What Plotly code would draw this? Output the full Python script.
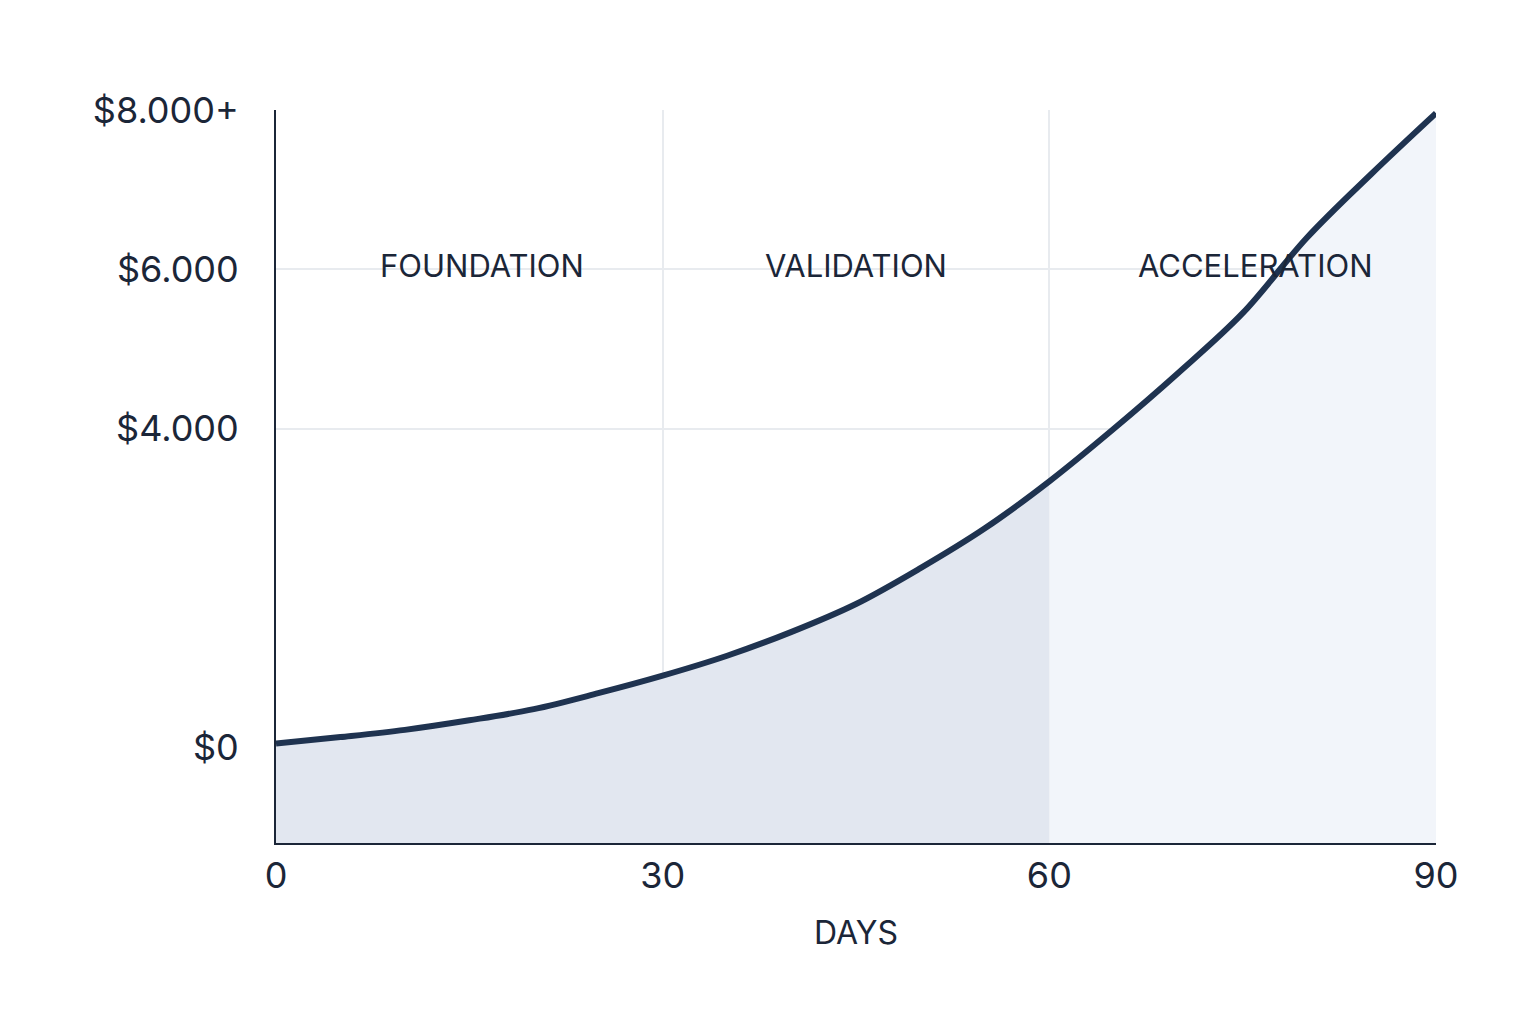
import plotly.graph_objects as go

days = [0, 5, 10, 15, 20, 25, 30, 35, 40, 45, 50, 55, 60, 65, 70, 75, 80, 85, 90]
revenue = [50, 130, 220, 340, 480, 680, 900, 1150, 1450, 1800, 2250, 2750, 3340, 4000, 4700, 5450, 6400, 7200, 7960]
phases = ["FOUNDATION", "VALIDATION", "ACCELERATION"]
phase_x = [16, 45, 76]
y_ticks = [0, 4000, 6000, 8000]
y_labels = ["$0", "$4.000", "$6.000", "$8.000+"]
x_ticks = [0, 30, 60, 90]
YMIN = -1200

fig = go.Figure()
d1 = [d for d in days if d <= 60]
r1 = revenue[:len(d1)]
d2 = [d for d in days if d >= 60]
r2 = revenue[len(d1) - 1:]
for dx, rx, col in [(d1, r1, "#e2e7f0"), (d2, r2, "#f2f5fa")]:
    fig.add_trace(go.Scatter(x=dx, y=[YMIN] * len(dx), mode="lines", line=dict(width=0), hoverinfo="skip", showlegend=False))
    fig.add_trace(go.Scatter(x=dx, y=rx, mode="lines", line=dict(width=0), fill="tonexty", fillcolor=col, showlegend=False))
fig.add_trace(go.Scatter(x=days, y=revenue, mode="lines", line=dict(color="#1f3350", width=6, shape="spline"), showlegend=False))

for p, px in zip(phases, phase_x):
    fig.add_annotation(x=px, y=6050, text=p, showarrow=False, yanchor="middle",
                       font=dict(family="Inter, Noto Sans", size=31, color="#1b2638"))

fig.update_layout(
    width=1536, height=1024, plot_bgcolor="white", paper_bgcolor="white",
    margin=dict(l=268, r=108, t=102, b=189),
    font=dict(family="Inter, Noto Sans", color="#1b2638"),
    xaxis=dict(range=[0, 90], tickvals=x_ticks, ticks="", showgrid=True, gridcolor="#e8ebef", gridwidth=1.5,
               zeroline=False, showline=True, linecolor="#1b2638", linewidth=2, tickfont=dict(size=36),
               title=dict(text="DAYS", font=dict(size=32), standoff=25)),
    yaxis=dict(range=[YMIN, 8000], tickvals=y_ticks, ticktext=y_labels, ticks="outside", ticklen=28,
               tickcolor="white", showgrid=True, gridcolor="#e8ebef", gridwidth=1.5, zeroline=False,
               showline=True, linecolor="#1b2638", linewidth=2, tickfont=dict(size=36)),
)
fig.write_html("out.html")
